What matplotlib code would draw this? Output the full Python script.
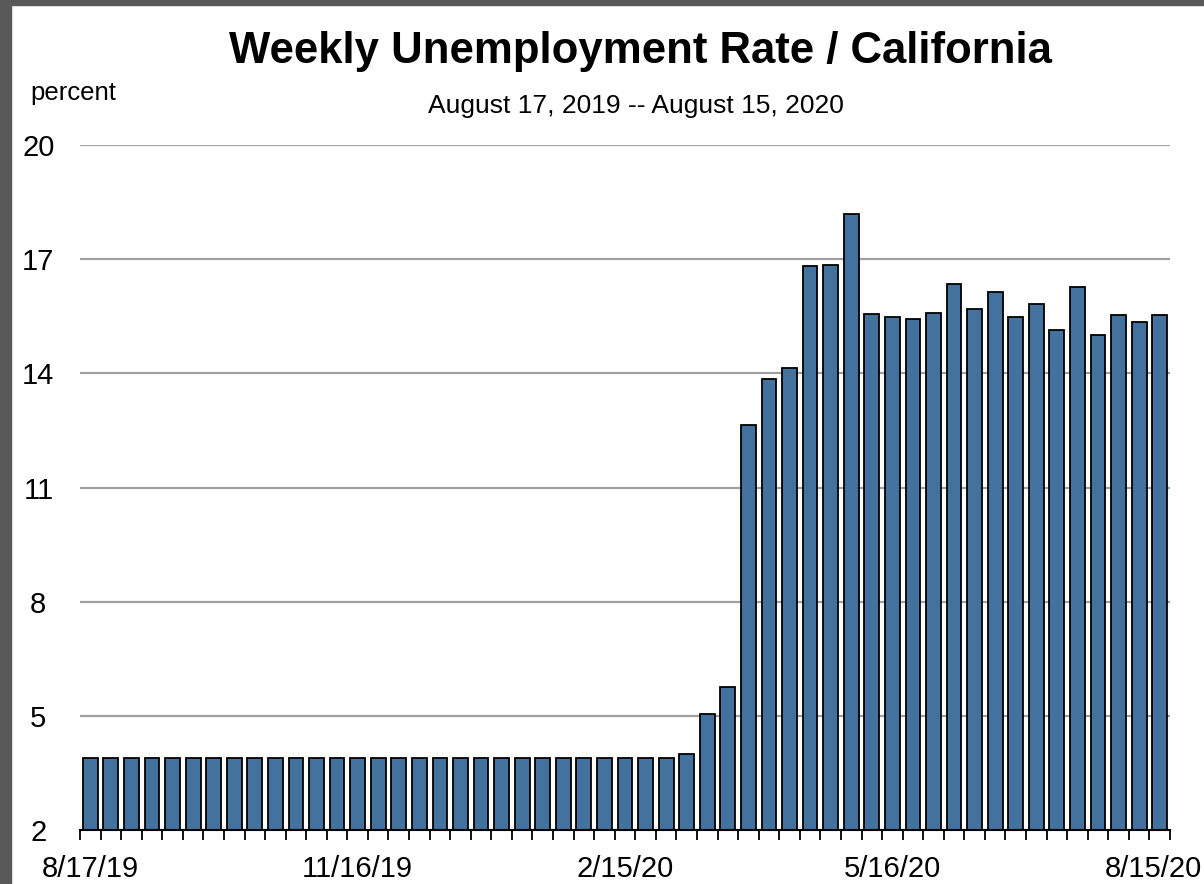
import matplotlib
matplotlib.use("Agg")
import matplotlib.pyplot as plt
import matplotlib.transforms as mtransforms
from matplotlib.patches import Rectangle
from matplotlib import font_manager
import numpy as np

# weekly rate, 8/17/19 .. 8/15/20 (53 weeks)
rates = [
    3.9, 3.9, 3.9, 3.9, 3.9, 3.9, 3.9, 3.9, 3.9, 3.9,
    3.9, 3.9, 3.9, 3.9, 3.9, 3.9, 3.9, 3.9, 3.9, 3.9,
    3.9, 3.9, 3.9, 3.9, 3.9, 3.9, 3.9, 3.9, 3.9, 4.0,
    5.06, 5.75, 12.63, 13.84, 14.13, 16.82, 16.84, 18.19, 15.57, 15.47,
    15.43, 15.59, 16.34, 15.70, 16.13, 15.49, 15.83, 15.15, 16.28, 15.01,
    15.54, 15.36, 15.52,
]
tick_weeks = [0, 13, 26, 39, 52]
tick_labels = ["8/17/19", "11/16/19", "2/15/20", "5/16/20", "8/15/20"]
y_ticks = [2, 5, 8, 11, 14, 17, 20]

names = {f.name for f in font_manager.fontManager.ttflist}
FONT = "Liberation Sans Narrow" if "Liberation Sans Narrow" in names else "Liberation Sans"
plt.rcParams["font.family"] = [FONT, "DejaVu Sans"]

W, H = 1204, 884
fig = plt.figure(figsize=(W / 100, H / 100), dpi=100)
fig.patch.set_facecolor("white")

# dark frame strips on the left and top edges
fig.patches.append(Rectangle((0, 0), 11 / W, 1, transform=fig.transFigure,
                             color="#595959", zorder=0))
fig.patches.append(Rectangle((0, 1 - 5 / H), 1, 5 / H, transform=fig.transFigure,
                             color="#595959", zorder=0))

ax = fig.add_axes([80 / W, 1 - 830 / H, (1170 - 80) / W, (830 - 145) / H])
x = np.arange(len(rates))
ax.bar(x, rates, width=0.72, color="#44729F", edgecolor="black", linewidth=1.3,
       zorder=3)

ax.set_xlim(-0.5, len(rates) - 0.5)
ax.set_ylim(2, 20)
ax.set_yticks(y_ticks)
ax.set_yticklabels([str(v) for v in y_ticks], ha="center")
ax.tick_params(axis="y", length=0, pad=30, labelsize=21)
ax.yaxis.grid(True, color="#a0a0a0", linewidth=1.6, zorder=0)

ax.set_xticks(tick_weeks)
ax.set_xticklabels(tick_labels)
ax.set_xticks(np.arange(-0.5, len(rates)), minor=True)
ax.tick_params(axis="x", which="major", length=0, pad=18, labelsize=21)
ax.tick_params(axis="x", which="minor", length=7.5, width=1.3, direction="out",
               color="black")

# last date label sits against the right edge
last = ax.get_xticklabels()[-1]
last.set_transform(last.get_transform() +
                   mtransforms.ScaledTranslation(-6 / 100, 0, fig.dpi_scale_trans))

for side in ["left", "top", "right"]:
    ax.spines[side].set_visible(False)
ax.spines["bottom"].set_linewidth(1.5)
ax.spines["bottom"].set_zorder(4)

fig.text(640 / W, 1 - 63 / H, "Weekly Unemployment Rate / California",
         ha="center", va="baseline", fontsize=31.5, fontweight="bold")
fig.text(636 / W, 1 - 113 / H, "August 17, 2019 -- August 15, 2020",
         ha="center", va="baseline", fontsize=19)
fig.text(30 / W, 1 - 100 / H, "percent", ha="left", va="baseline", fontsize=18.5)

fig.savefig("out.png", dpi=100)
